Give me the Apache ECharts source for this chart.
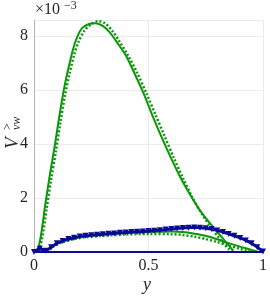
<!DOCTYPE html>
<html><head><meta charset="utf-8">
<script src="https://cdn.jsdelivr.net/npm/echarts@6/dist/echarts.min.js"></script>
<style>html,body{margin:0;padding:0;background:#fff}#c{width:270px;height:296px}</style>
</head><body><div id="c"></div>
<script>
// values in units of 1e-3
const bigSolidX = [0,0.015,0.03,0.05,0.07,0.09,0.11,0.13,0.15,0.17,0.19,0.21,0.24,0.27,0.30,0.33,0.36,0.40,0.44,0.48,0.52,0.56,0.60,0.64,0.68,0.72,0.76,0.80,0.84,0.87];
const bigSolidY = [0,0.05,0.6,1.8,2.9,3.9,5.0,6.0,6.8,7.5,8.0,8.3,8.45,8.48,8.38,8.15,7.8,7.3,6.6,5.85,5.0,4.2,3.45,2.75,2.15,1.6,1.15,0.75,0.35,0.05];
const bigDotX = [0,0.02,0.035,0.055,0.075,0.095,0.115,0.135,0.155,0.175,0.195,0.22,0.25,0.28,0.31,0.34,0.37,0.41,0.45,0.49,0.53,0.57,0.61,0.65,0.69,0.73,0.77,0.81,0.85,0.87];
const bigDotY = [0,0.1,0.5,1.6,2.7,3.7,4.8,5.8,6.6,7.3,7.8,8.2,8.45,8.56,8.48,8.22,7.85,7.3,6.65,5.9,5.1,4.3,3.5,2.75,2.05,1.45,0.95,0.5,0.12,0];
const lowSolidX = [0,0.03,0.05,0.08,0.12,0.2,0.3,0.4,0.5,0.6,0.65,0.7,0.75,0.8,0.85,0.9,0.95,0.98];
const lowSolidY = [0,0.1,0.05,0.2,0.38,0.55,0.64,0.7,0.74,0.76,0.74,0.68,0.6,0.47,0.33,0.2,0.08,0];
const lowDotX = [0,0.03,0.05,0.08,0.12,0.2,0.3,0.4,0.5,0.6,0.65,0.7,0.75,0.8,0.85,0.9,0.93,0.95];
const lowDotY = [0,0.1,0.05,0.18,0.35,0.52,0.6,0.65,0.67,0.66,0.63,0.57,0.48,0.37,0.24,0.12,0.04,0];
const blueX = [0,0.025,0.05,0.075,0.1,0.125,0.15,0.175,0.2,0.225,0.25,0.275,0.3,0.325,0.35,0.375,0.4,0.425,0.45,0.475,0.5,0.525,0.55,0.575,0.6,0.625,0.65,0.675,0.7,0.725,0.75,0.775,0.8,0.825,0.85,0.875,0.9,0.925,0.95,0.975,1.0];
const blueY = [0,0.12,0.05,0.18,0.32,0.41,0.48,0.53,0.57,0.6,0.62,0.64,0.66,0.68,0.69,0.71,0.72,0.74,0.75,0.76,0.78,0.79,0.81,0.83,0.85,0.87,0.89,0.9,0.91,0.9,0.88,0.85,0.8,0.74,0.67,0.6,0.52,0.43,0.32,0.18,0.02];
const zeroX = [0,1];
const zeroY = [0,0];
const xTicks = [0,0.5,1];
const yTicks = [0,2,4,6,8];

const zip = (a,b)=>a.map((v,i)=>[v,b[i]]);
const green = '#0a960a', blue = '#0a0a96', txt = '#262626';
const font = 'Liberation Serif';
const chart = echarts.init(document.getElementById('c'));
chart.setOption({
  animation:false,
  grid:{left:34,right:4,top:20,bottom:44},
  xAxis:{type:'value',min:0,max:1,interval:0.5,
    axisLine:{show:false},axisTick:{show:false},
    splitLine:{show:true,lineStyle:{color:'#ebebeb',width:1}},
    axisLabel:{color:txt,fontFamily:font,fontSize:16,margin:6,
      formatter:v=>xTicks.includes(v)?String(v):''}},
  yAxis:{type:'value',min:0,max:8.6,interval:2,
    axisLine:{show:true,lineStyle:{color:'#b4b4b4',width:1}},axisTick:{show:false},
    splitLine:{show:true,lineStyle:{color:'#ebebeb',width:1}},
    axisLabel:{color:txt,fontFamily:font,fontSize:16,margin:6,showMaxLabel:false,
      formatter:v=>yTicks.includes(v)?String(v):''}},
  series:[
    {type:'line',data:zip(lowDotX,lowDotY),symbol:'none',smooth:0.3,lineStyle:{color:green,width:2.5,type:[2,2]}},
    {type:'line',data:zip(lowSolidX,lowSolidY),symbol:'none',smooth:0.3,lineStyle:{color:green,width:2}},
    {type:'line',data:zip(bigDotX,bigDotY),symbol:'none',smooth:0.3,lineStyle:{color:green,width:2.5,type:[2,2]}},
    {type:'line',data:zip(bigSolidX,bigSolidY),symbol:'none',smooth:0.3,lineStyle:{color:green,width:2}},
    {type:'line',data:zip(blueX,blueY),smooth:0.3,symbol:'triangle',symbolRotate:180,symbolSize:6,
      itemStyle:{color:blue},lineStyle:{color:blue,width:3}},
    {type:'line',data:zip(zeroX,zeroY),symbol:'none',lineStyle:{color:blue,width:2}}
  ],
  graphic:[
    {type:'text',left:35,top:2,style:{text:'×10',font:'16px "Liberation Serif"',fill:txt}},
    {type:'text',left:64,top:0,style:{text:'−3',font:'12px "Liberation Serif"',fill:txt}},
    {type:'text',x:143,y:276,style:{text:'y',font:'italic 18px "Liberation Serif"',fill:txt}},
    {type:'text',x:3,y:149,rotation:Math.PI/2,style:{text:'V',font:'italic 19px "Liberation Serif"',fill:txt}},
    {type:'text',x:2,y:130,rotation:Math.PI/2,style:{text:'>',font:'12px "Liberation Serif"',fill:txt}},
    {type:'text',x:11,y:130,rotation:Math.PI/2,style:{text:'vw',font:'italic 12px "Liberation Serif"',fill:txt}}
  ]
});
</script></body></html>
